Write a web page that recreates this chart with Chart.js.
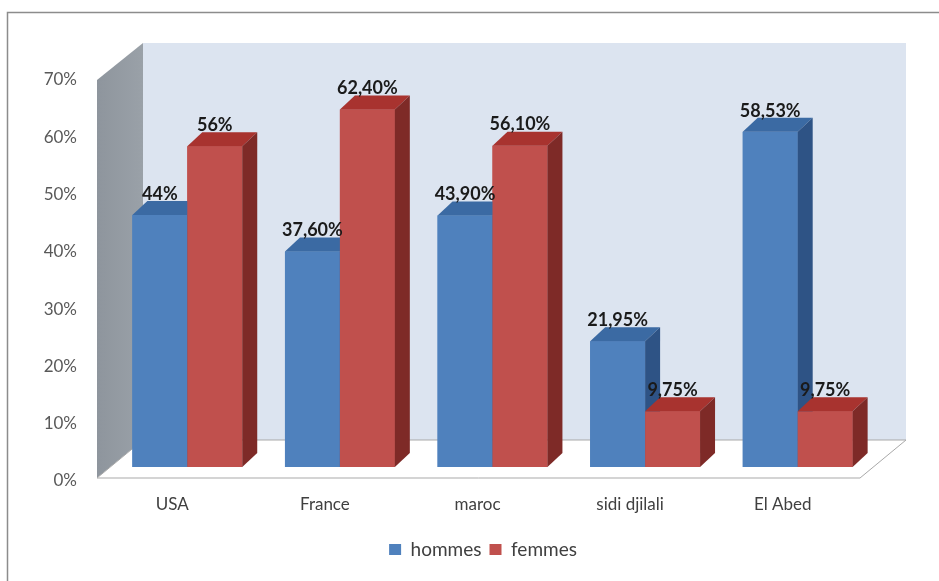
<!DOCTYPE html>
<html>
<head>
<meta charset="utf-8">
<script src="https://cdn.jsdelivr.net/npm/chart.js@4"></script>
<style>
  body{margin:0;background:#fff;}
  canvas{display:block;}
</style>
</head>
<body>
<canvas id="chart" width="939" height="581"></canvas>
<script>
// ===== Data =====
const categories = ["USA", "France", "maroc", "sidi djilali", "El Abed"];
const hommes = [44, 37.6, 43.9, 21.95, 58.53];
const femmes = [56, 62.4, 56.1, 9.75, 9.75];
const yTicks = [0, 10, 20, 30, 40, 50, 60, 70];

const FONT = "Lato, 'Open Sans', sans-serif";

// 3D offsets (pixels) relative to the plane of the bar fronts
const FRONT = {dx: -14, dyBottom: 11, dyTop: 14};
const BACK = {dx: 32, dyBottom: -27, dyTop: -23};
const DEPTH = {dx: 15, dy: -14};

const faceColors = [
  {top: "#3b6aa3", side: "#2e5385"},
  {top: "#a8332f", side: "#7e2a27"}
];

function fmtPct(v){
  return Number.isInteger(v) ? v + "%" : v.toFixed(2).replace(".", ",") + "%";
}

function poly(ctx, pts, fill, stroke){
  ctx.beginPath();
  ctx.moveTo(pts[0][0], pts[0][1]);
  for(let i=1;i<pts.length;i++) ctx.lineTo(pts[i][0], pts[i][1]);
  ctx.closePath();
  if(fill){ ctx.fillStyle = fill; ctx.fill(); }
  if(stroke){ ctx.strokeStyle = stroke; ctx.lineWidth = 1; ctx.stroke(); }
}

// ===== Walls, floor and bar faces =====
const box3d = {
  id: "box3d",
  afterLayout(chart){
    // legend sits a little right of the page centre
    chart.legend.left += 46;
    chart.legend.right += 46;
  },
  beforeDraw(chart){
    const ctx = chart.ctx;
    ctx.save();
    ctx.fillStyle = "#fff";
    ctx.fillRect(0, 0, chart.width, chart.height);
    ctx.strokeStyle = "#8c8c8c";
    ctx.lineWidth = 1.5;
    ctx.strokeRect(7.5, 12.5, chart.width, chart.height);
    ctx.restore();
  },
  beforeDatasetsDraw(chart){
    const ctx = chart.ctx;
    const {left, right} = chart.chartArea;
    const y = chart.scales.y;
    const y0 = y.getPixelForValue(y.min);
    const yT = y.getPixelForValue(y.max);
    ctx.save();
    // back wall
    poly(ctx, [
      [left + BACK.dx, yT + BACK.dyTop], [right + BACK.dx, yT + BACK.dyTop],
      [right + BACK.dx, y0 + BACK.dyBottom], [left + BACK.dx, y0 + BACK.dyBottom]
    ], "#dce4f0");
    // left wall
    const grad = ctx.createLinearGradient(left + FRONT.dx, 0, left + BACK.dx, 0);
    grad.addColorStop(0, "#8e959d");
    grad.addColorStop(1, "#9aa1a8");
    poly(ctx, [
      [left + FRONT.dx, yT + FRONT.dyTop], [left + BACK.dx, yT + BACK.dyTop],
      [left + BACK.dx, y0 + BACK.dyBottom], [left + FRONT.dx, y0 + FRONT.dyBottom]
    ], grad);
    // floor
    poly(ctx, [
      [left + FRONT.dx, y0 + FRONT.dyBottom], [right + FRONT.dx, y0 + FRONT.dyBottom],
      [right + BACK.dx, y0 + BACK.dyBottom], [left + BACK.dx, y0 + BACK.dyBottom]
    ], "#ffffff", "#a9a9a9");
    ctx.restore();
  },
  afterDatasetsDraw(chart){
    const ctx = chart.ctx;
    const metas = chart.data.datasets.map((ds, i) => chart.getDatasetMeta(i));
    ctx.save();
    // bars left to right, each with its top and right side faces
    categories.forEach((cat, j) => {
      metas.forEach((meta, i) => {
        const bar = meta.data[j];
        const c = faceColors[i];
        const l = bar.x - bar.width / 2, r = bar.x + bar.width / 2;
        bar.draw(ctx);
        poly(ctx, [[l, bar.y], [l + DEPTH.dx, bar.y + DEPTH.dy],
          [r + DEPTH.dx, bar.y + DEPTH.dy], [r, bar.y]], c.top);
        poly(ctx, [[r, bar.y], [r + DEPTH.dx, bar.y + DEPTH.dy],
          [r + DEPTH.dx, bar.base + DEPTH.dy], [r, bar.base]], c.side);
      });
    });
    // value labels
    ctx.font = "bold 18px " + FONT;
    ctx.fillStyle = "#1a1a1a";
    ctx.textAlign = "center";
    ctx.textBaseline = "middle";
    chart.data.datasets.forEach((ds, i) => {
      metas[i].data.forEach((bar, j) => {
        ctx.fillText(fmtPct(ds.data[j]), bar.x, bar.y - 21);
      });
    });
    ctx.restore();
  }
};

new Chart(document.getElementById("chart"), {
  type: "bar",
  data: {
    labels: categories,
    datasets: [
      {label: "hommes", data: hommes, backgroundColor: "#4f81bd"},
      {label: "femmes", data: femmes, backgroundColor: "#c0504d"}
    ]
  },
  options: {
    responsive: false,
    animation: false,
    layout: {padding: {left: 0, top: 66, right: 65, bottom: 12}},
    datasets: {bar: {categoryPercentage: 0.72, barPercentage: 1}},
    scales: {
      x: {
        grid: {display: false, drawTicks: false},
        border: {display: false},
        ticks: {font: {family: FONT, size: 17}, color: "#404040", padding: 27, labelOffset: -15, maxRotation: 0},
        afterFit(scale){ scale.height = 65; }
      },
      y: {
        min: 0, max: 70,
        afterBuildTicks(scale){ scale.ticks = yTicks.map(v => ({value: v})); },
        grid: {display: false, drawTicks: false},
        border: {display: false},
        ticks: {font: {family: FONT, size: 17}, color: "#595959", padding: 34, labelOffset: 14,
          callback: v => v + "%"},
        afterFit(scale){ scale.width = 111; }
      }
    },
    plugins: {
      legend: {
        position: "bottom",
        labels: {font: {family: FONT, size: 19}, color: "#404040", boxWidth: 12, boxHeight: 11, padding: 8}
      },
      tooltip: {enabled: false}
    }
  },
  plugins: [box3d]
});
</script>
</body>
</html>
